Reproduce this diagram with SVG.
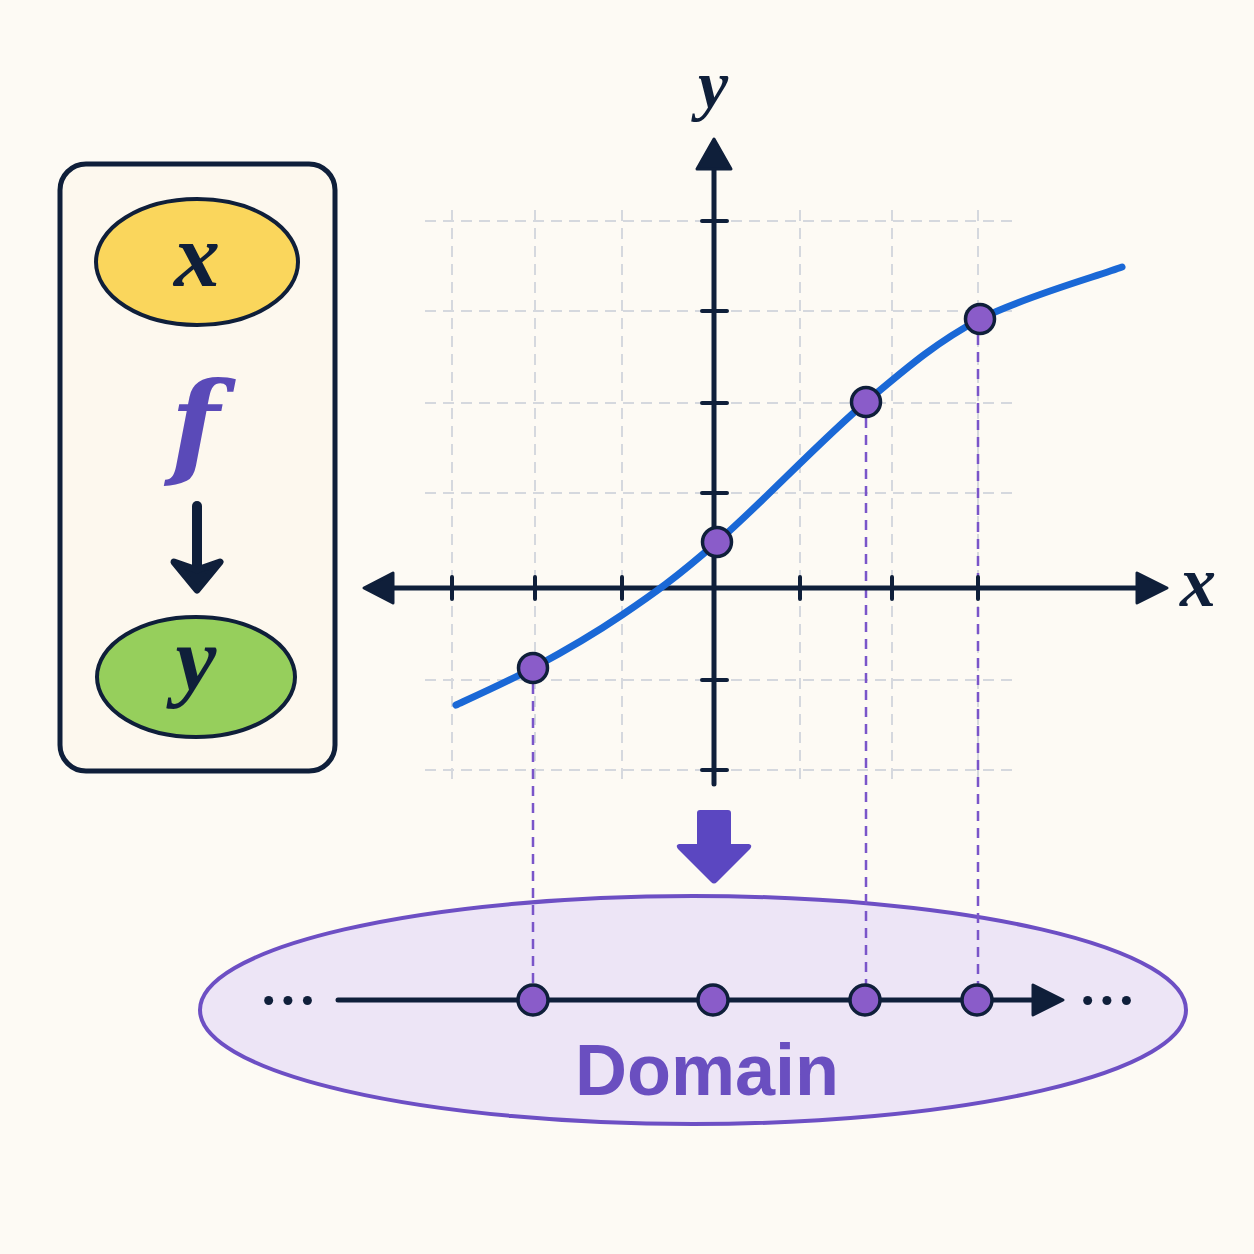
<svg xmlns="http://www.w3.org/2000/svg" width="1254" height="1254" viewBox="0 0 1254 1254">
<style>
.grid{stroke:#d5d8de;stroke-width:2;stroke-dasharray:11 7;fill:none}
.axis{stroke:#0f1f3a;stroke-width:5;stroke-linecap:round;fill:none}
.tick{stroke:#0f1f3a;stroke-width:4;stroke-linecap:round}
.proj{stroke:#7a55c9;stroke-width:2.5;stroke-dasharray:10 7;fill:none}
.pt{fill:#8a5cc9;stroke:#0f1f3a;stroke-width:3.5}
.head{fill:#0f1f3a;stroke:#0f1f3a;stroke-width:3;stroke-linejoin:round}
.math{font-family:"Liberation Serif","DejaVu Serif",serif;font-style:italic;font-weight:bold;fill:#0f1f3a;text-anchor:middle}
.dots{font-family:"Liberation Serif","Times New Roman",serif;font-size:76px;letter-spacing:-6px;fill:#0f1f3a;text-anchor:middle}
</style>
<rect width="1254" height="1254" fill="#fdfaf4"/>

<g id="function-box">
<rect x="60" y="164" width="275" height="607" rx="26" fill="#fdf8ee" stroke="#0f1f3a" stroke-width="5"/>
</g>
<g id="node-x">
<ellipse cx="197" cy="262" rx="101" ry="63" fill="#fad65c" stroke="#0f1f3a" stroke-width="4"/>
<text class="math" x="197" y="286" font-size="92">x</text>
</g>
<g id="label-f">
<text x="195" y="464" font-family="DejaVu Serif, serif" font-style="italic" font-weight="bold" font-size="114" fill="#5a4ab8" text-anchor="middle">f</text>
</g>
<g id="node-y">
<ellipse cx="196" cy="677" rx="99" ry="60" fill="#96cf5c" stroke="#0f1f3a" stroke-width="4"/>
<text class="math" x="196" y="690" font-size="92">y</text>
</g>

<g id="domain">
<ellipse cx="693" cy="1010" rx="493" ry="114" fill="#ede5f6" stroke="#6d4fc4" stroke-width="4"/>
<text x="707" y="1095" font-family="Liberation Sans, Arial, sans-serif" font-weight="bold" font-size="72" fill="#6a4fc0" text-anchor="middle">Domain</text>
</g>

<g id="grid">
<path class="grid" d="M452,210V780 M535,210V780 M622,210V780 M800,210V780 M892,210V780 M978,210V780"/>
<path class="grid" d="M425,221H1015 M425,311H1015 M425,403H1015 M425,493H1015 M425,680H1015 M425,770H1015"/>
</g>

<g id="connectors">
<path class="proj" d="M533,684V1000 M866,418V1000 M978,335V1000"/>
<line class="axis" x1="714" y1="784" x2="714" y2="168"/>
<path class="head" d="M714,139 L731,169 L697,169 Z"/>
<line class="axis" x1="392" y1="588" x2="1140" y2="588"/>
<path class="head" d="M364,588 L393,573 L393,603 Z"/>
<path class="head" d="M1167,588 L1137,573 L1137,603 Z"/>
<path class="tick" d="M452,577V599 M535,577V599 M622,577V599 M800,577V599 M892,577V599 M978,577V599"/>
<path class="tick" d="M702,221H727 M702,311H727 M702,403H727 M702,493H727 M702,680H727 M702,770H727"/>
<line x1="197" y1="506" x2="197" y2="575" stroke="#0f1f3a" stroke-width="10" stroke-linecap="round"/>
<path d="M174,562 L197,590 L220,562 L197,570 Z" fill="#0f1f3a" stroke="#0f1f3a" stroke-width="7" stroke-linejoin="round"/>
<path d="M700,810 H728 Q731,810 731,813 V844 H749 Q753,845 750,849 L717,882 Q714,885 711,882 L678,849 Q675,845 679,844 H697 V813 Q697,810 700,810 Z" fill="#5b47c1"/>
<line x1="338" y1="1000" x2="1040" y2="1000" stroke="#0f1f3a" stroke-width="5" stroke-linecap="round"/>
<path class="head" d="M1063,1000 L1033,985 L1033,1015 Z"/>
</g>

<g id="curve">
<path d="M456,705 C469,699 505,683 533,668 C561,653 591,636 622,615 C653,594 676,578 717,542 C758,507 822,439 866,402 C910,365 937,342 980,319 C1023,297 1098,276 1122,267" fill="none" stroke="#1a68d6" stroke-width="7" stroke-linecap="round"/>
</g>

<g id="graph-points">
<circle class="pt" cx="533" cy="668" r="14.5"/>
<circle class="pt" cx="717" cy="542" r="14.5"/>
<circle class="pt" cx="866" cy="402" r="14.5"/>
<circle class="pt" cx="980" cy="319" r="14.5"/>
</g>

<g id="domain-points">
<circle class="pt" cx="533" cy="1000" r="15"/>
<circle class="pt" cx="713" cy="1000" r="15"/>
<circle class="pt" cx="865" cy="1000" r="15"/>
<circle class="pt" cx="977" cy="1000" r="15"/>
<text class="dots" x="285" y="1026">···</text>
<text class="dots" x="1104" y="1026">···</text>
</g>

<g id="axis-labels">
<text class="math" x="713" y="108" font-size="68">y</text>
<text class="math" x="1198" y="606" font-size="72">x</text>
</g>
</svg>
